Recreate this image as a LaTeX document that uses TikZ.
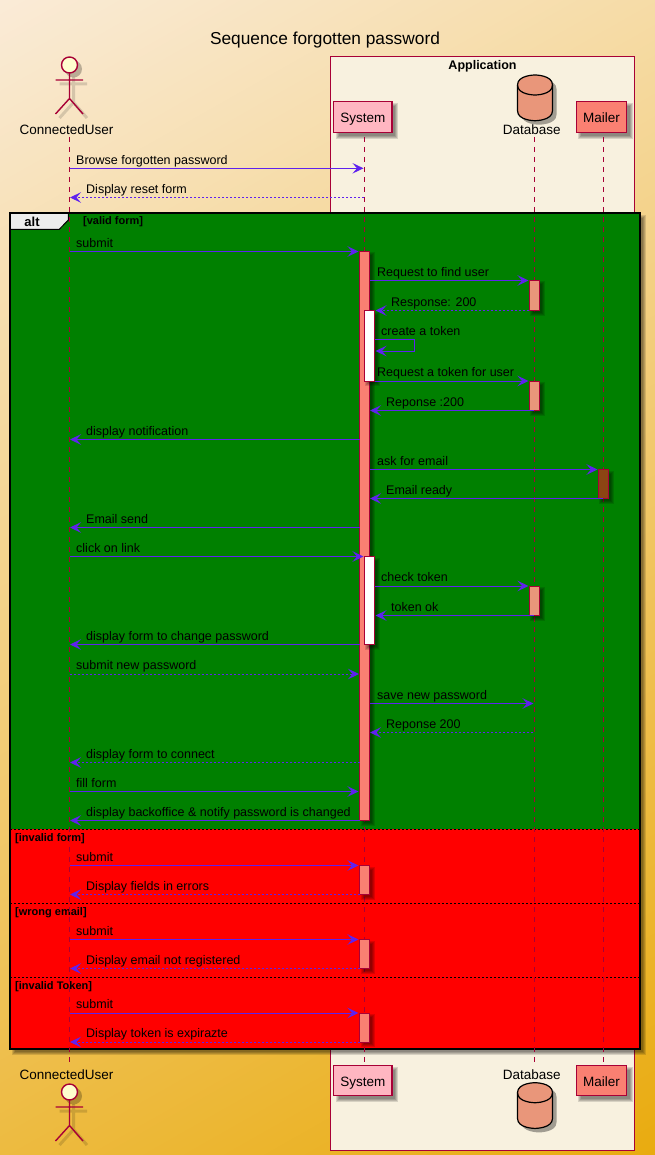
\documentclass[tikz,border=0pt]{standalone}
\usepackage{fontspec}
\setmainfont{Liberation Sans}
\usetikzlibrary{arrows.meta}
\definecolor{bgA}{HTML}{FAEBD7}
\definecolor{bgB}{HTML}{E9AB0F}
\definecolor{plum}{HTML}{A80036}
\definecolor{arrowc}{HTML}{5F22EE}
\definecolor{boxc}{HTML}{F8F1DF}
\definecolor{sysc}{HTML}{FFB6C1}
\definecolor{salm}{HTML}{FA8072}
\definecolor{dbc}{HTML}{E9967A}
\definecolor{brownc}{HTML}{8B4513}
\definecolor{greenc}{HTML}{008000}
\definecolor{headc}{HTML}{FEFECE}
\tikzset{
  part/.style={draw=plum,line width=1.4pt,inner sep=0pt,minimum height=31.4pt,text height=11pt,text depth=0pt,font=\fontsize{13.5}{15}\selectfont},
  txt/.style={inner sep=0pt,anchor=base west,font=\fontsize{12.5}{15}\selectfont},
  ctxt/.style={inner sep=0pt,anchor=base,font=\fontsize{13.5}{15}\selectfont},
  guard/.style={inner sep=0pt,anchor=base west,font=\bfseries\fontsize{11}{13}\selectfont},
  life/.style={draw=plum,line width=1pt,dash pattern=on 5pt off 5pt},
  msgsolid/.style={draw=arrowc,line width=1pt,-{Stealth[length=11pt,width=10.5pt,inset=4.5pt]}},
  msgdash/.style={msgsolid,dash pattern=on 2pt off 2pt},
  act/.style={draw=plum,line width=1pt},
  actorline/.style={draw=plum,line width=1.4pt},
  actorshadow/.style={draw=black,opacity=.14,line width=3pt},
  sepline/.style={draw=black,line width=.8pt,dash pattern=on 2pt off 2pt}
}
% soft shadow of a rectangle
\newcommand{\softrect}[5][4]{%
  \foreach \d in {2,1,0,-1}{%
    \fill[black,opacity=.13] ({#2+#1-\d},{#3+#1-\d}) rectangle ({#4+#1+\d},{#5+#1+\d});}}
% activation bar
\newcommand{\actbar}[5]{%
  \softrect[3]{#2}{#3}{#4}{#5}%
  \draw[act,fill=#1] (#2,#3) rectangle (#4,#5);}
% message: id, x1, x2, y, label x, text, style
\newcommand{\msg}[7][msgsolid]{%
  \coordinate (#2a) at (#3,#5);
  \coordinate (#2b) at (#4,#5);
  \draw[#1] (#2a) -- (#2b);
  \node[txt] (#2t) at (#6,{#5-4.1}) {#7};}
% actor figure at y offset
\newcommand{\actor}[1]{%
  \begin{scope}[shift={(0,#1)}]
    \begin{scope}[shift={(4,4)}]
      \fill[black,opacity=.25] (69.5,65) circle (8.5pt);
      \draw[actorshadow] (55.5,80) -- (83,80) (69.5,73) -- (69.5,98.5) -- (55.5,114) (69.5,98.5) -- (83,114);
    \end{scope}
    \draw[actorline] (69.5,73) -- (69.5,98.5) (55.5,80) -- (83,80)
      (55.5,114) -- (69.5,98.5) -- (83,114);
    \draw[actorline,fill=headc] (69.5,65) circle (8pt);
  \end{scope}}
% database figure at y offset
\newcommand{\dbpath}{(517.5,85) .. controls (517.5,75) and (535,75) .. (535,75)
  .. controls (535,75) and (552.5,75) .. (552.5,85) -- (552.5,110.7)
  .. controls (552.5,120.7) and (535,120.7) .. (535,120.7)
  .. controls (535,120.7) and (517.5,120.7) .. (517.5,110.7) -- cycle}
\newcommand{\database}[1]{%
  \begin{scope}[shift={(0,#1)}]
    \begin{scope}[shift={(4,4)}]
      \fill[black,opacity=.35] \dbpath;
    \end{scope}
    \draw[black,line width=1.2pt,fill=dbc] \dbpath;
    \draw[black,line width=1.2pt] (517.5,85) .. controls (517.5,95) and (535,95) .. (535,95)
      .. controls (535,95) and (552.5,95) .. (552.5,85);
  \end{scope}}
\begin{document}
\begin{tikzpicture}[x=1pt,y=-1pt]
\useasboundingbox (0,0) rectangle (655,1155);
% diagonal background gradient, corner to corner
\begin{scope}
  \clip (0,0) rectangle (655,1155);
  \fill[bgA] (0,0) rectangle (655,1155);
  \foreach \i in {1,...,200}{%
    \pgfmathsetmacro{\tt}{\i/200}%
    \pgfmathsetmacro{\pc}{\i/2}%
    \pgfmathsetmacro{\px}{\tt*655}%
    \pgfmathsetmacro{\py}{\tt*1155}%
    \fill[bgB!\pc!bgA]
      ({\px-0.8698*800},{\py+0.4933*800}) --
      ({\px+0.8698*800},{\py-0.4933*800}) --
      ({\px+0.8698*800+0.4933*1500},{\py-0.4933*800+0.8698*1500}) --
      ({\px-0.8698*800+0.4933*1500},{\py+0.4933*800+0.8698*1500}) -- cycle;
  }
\end{scope}

% title
\node[inner sep=0pt,anchor=base,font=\fontsize{17.3}{19}\selectfont] (title) at (325,45) {Sequence forgotten password};

% application box
\draw[plum,line width=1pt,fill=boxc] (330.5,56.5) rectangle (634.5,1150.5);
\node[inner sep=0pt,anchor=base,font=\bfseries\fontsize{12.5}{15}\selectfont] (appl) at (482.5,69.5) {Application};

% participants top
\actor{0}
\node[ctxt] (userT) at (66.5,134.3) {ConnectedUser};
\softrect{333.5}{101.3}{392}{132.7}
\node[part,fill=sysc,minimum width=58.5pt] (sysT) at (362.75,117) {System};
\database{0}
\node[ctxt] (dbT) at (531.7,135) {Database};
\softrect{576.3}{101.3}{626.7}{132.7}
\node[part,fill=salm,minimum width=50.4pt] (mailT) at (601.5,117) {Mailer};

% participants bottom
\actor{1027}
\node[ctxt] (userB) at (66.5,1079.5) {ConnectedUser};
\softrect{333.5}{1065.3}{392}{1095.7}
\node[part,fill=sysc,minimum width=58.5pt,minimum height=30.4pt] (sysB) at (362.75,1080.5) {System};
\database{1007.7}
\node[ctxt] (dbB) at (531.7,1079.5) {Database};
\softrect{576.3}{1065.3}{626.7}{1095.7}
\node[part,fill=salm,minimum width=50.4pt,minimum height=30.4pt] (mailB) at (601.5,1080.5) {Mailer};

% frame
\softrect[4]{10}{213}{640}{1049}
\fill[greenc] (10,213) rectangle (640,829);
\fill[red] (10,829) rectangle (640,1049);
\draw[black,line width=2pt] (10,213) rectangle (640,1049);
\draw[black,line width=1pt,fill=black!7] (10,213) -- (68.3,213) -- (68.3,220) -- (59.3,229.3) -- (10,229.3) -- cycle;
\draw[black,line width=2pt] (10,213) -- (68.3,213);
\draw[black,line width=2pt] (10,213) -- (10,229.3);
\node[inner sep=0pt,anchor=base,font=\bfseries\fontsize{13}{15}\selectfont] (alt) at (32,226.5) {alt};
\node[guard] (g1) at (83,225) {[valid form]};
\draw[sepline] (10,829.3) -- (640,829.3);
\draw[sepline] (10,903.3) -- (640,903.3);
\draw[sepline] (10,977.3) -- (640,977.3);
\node[guard] (g2) at (15,841) {[invalid form]};
\node[guard] (g3) at (15,915) {[wrong email]};
\node[guard] (g4) at (15,989) {[invalid Token]};

% lifelines
\coordinate (lUt) at (69.5,137); \coordinate (lUb) at (69.5,1066);
\coordinate (lSt) at (364.3,137); \coordinate (lSb) at (364.3,1065);
\coordinate (lDt) at (534.3,137); \coordinate (lDb) at (534.3,1064);
\coordinate (lMt) at (603.3,137); \coordinate (lMb) at (603.3,1065);
\draw[life] (lUt) -- (lUb);
\draw[life] (lSt) -- (lSb);
\draw[life] (lDt) -- (lDb);
\draw[life] (lMt) -- (lMb);

% activations
\actbar{salm}{359.6}{251.5}{369.7}{820.5}
\actbar{dbc}{529.3}{280.5}{539.6}{310.5}
\actbar{white}{364.4}{310.5}{374.7}{381}
\actbar{dbc}{529.3}{381}{539.6}{410.5}
\actbar{brownc}{598.4}{469.5}{608.7}{498.5}
\actbar{white}{364.4}{556.5}{374.7}{644.5}
\actbar{dbc}{529.3}{586}{539.6}{615.5}
\actbar{salm}{359.6}{865.5}{369.7}{894.5}
\actbar{salm}{359.6}{939.5}{369.7}{968.5}
\actbar{salm}{359.6}{1013}{369.7}{1042}

% messages
\msg{m1}{69.5}{363.5}{168.3}{76}{Browse forgotten password}
\msg[msgdash]{m2}{364}{70}{197.5}{86}{Display reset form}
\msg{m3}{69.5}{358.5}{251.5}{76}{submit}
\msg{m4}{370}{528.5}{280.5}{377}{Request to find user}
\msg[msgdash]{m5}{529}{375.5}{310.5}{391}{Response: 200}
\coordinate (s1) at (375,339.3);
\coordinate (s2) at (414.3,339.3);
\coordinate (s3) at (414.3,351);
\coordinate (s4) at (375.5,351);
\draw[msgsolid] (s1) -- (s2) -- (s3) -- (s4);
\node[txt] (m6t) at (381,335.2) {create a token};
\msg{m7}{375}{528.5}{381}{377}{Request a token for user}
\msg{m8}{534}{370}{410.5}{386}{Reponse :200}
\msg{m9}{359.5}{70}{439.5}{86}{display notification}
\msg{m10}{370}{597.5}{469.5}{377}{ask for email}
\msg{m11}{603}{370}{498.5}{386}{Email ready}
\msg{m12}{359.5}{70}{527.5}{86}{Email send}
\msg{m13}{69.5}{363.5}{556.5}{76}{click on link}
\msg{m14}{375}{528.5}{586}{381}{check token}
\msg{m15}{534}{375.5}{615.5}{391}{token ok}
\msg{m16}{359.5}{70}{644.5}{86}{display form to change password}
\msg[msgdash]{m17}{69.5}{359}{674}{76}{submit new password}
\msg{m18}{370}{533.5}{703.5}{377}{save new password}
\msg[msgdash]{m19}{533}{370}{732.5}{386}{Reponse 200}
\msg[msgdash]{m20}{359.5}{70}{762.5}{86}{display form to connect}
\msg{m21}{69.5}{358.5}{791.5}{76}{fill form}
\msg{m22}{359.5}{70}{820.5}{86}{display backoffice \& notify password is changed}
\msg{m23}{69.5}{358.5}{865.5}{76}{submit}
\msg[msgdash]{m24}{359.5}{70}{894.5}{86}{Display fields in errors}
\msg{m25}{69.5}{358.5}{939.5}{76}{submit}
\msg[msgdash]{m26}{359.5}{70}{968.5}{86}{Display email not registered}
\msg{m27}{69.5}{358.5}{1013}{76}{submit}
\msg[msgdash]{m28}{359.5}{70}{1042}{86}{Display token is expirazte}
\end{tikzpicture}
\end{document}
